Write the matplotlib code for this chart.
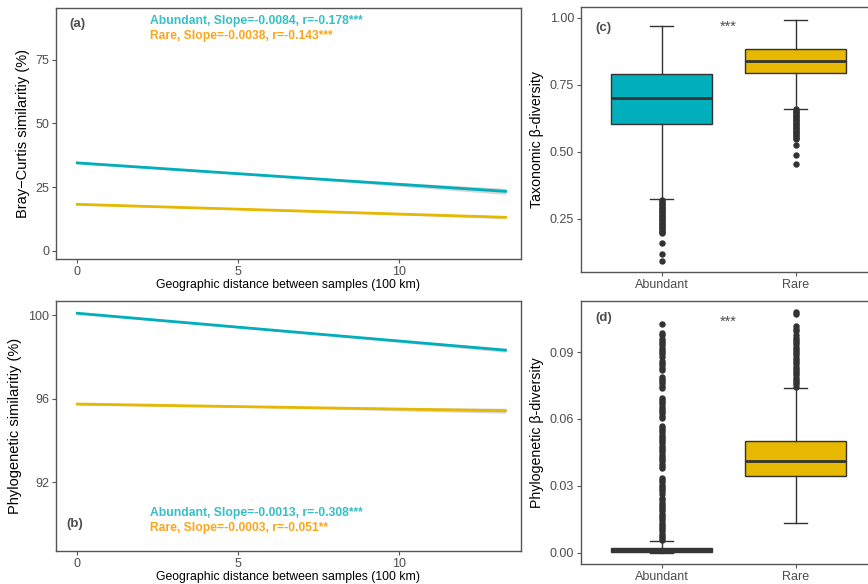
import numpy as np
import matplotlib.pyplot as plt

plt.rcParams['font.family'] = ['Liberation Sans', 'DejaVu Sans']

# regression lines: distance (100 km) -> similarity (%)
dist = [0, 6.6, 13.32]
bc_abundant = [34.5, 28.9, 23.3]
bc_abundant_ci = [0.4, 0.3, 1.2]
bc_rare = [18.2, 15.7, 13.1]
bc_rare_ci = [0.25, 0.15, 0.55]
phy_abundant = [100.10, 99.22, 98.33]
phy_abundant_ci = [0.05, 0.04, 0.1]
phy_rare = [95.75, 95.59, 95.43]
phy_rare_ci = [0.05, 0.04, 0.12]

groups = ["Abundant", "Rare"]

# box stats for taxonomic beta diversity
tax_q1 = [0.6045, 0.795]
tax_med = [0.700, 0.840]
tax_q3 = [0.789, 0.882]
tax_lo = [0.3235, 0.660]
tax_hi = [0.970, 0.9925]
tax_out_abundant = [0.320, 0.315, 0.310, 0.305, 0.300, 0.295, 0.290, 0.285, 0.280,
                    0.275, 0.270, 0.265, 0.260, 0.255, 0.250, 0.245, 0.240, 0.235,
                    0.230, 0.225, 0.220, 0.215, 0.210, 0.205, 0.200, 0.195,
                    0.158, 0.117, 0.093]
tax_out_rare = [0.658, 0.653, 0.648, 0.643, 0.638, 0.633, 0.628, 0.623, 0.618,
                0.613, 0.608, 0.603, 0.598, 0.593, 0.588, 0.583, 0.578, 0.573,
                0.568, 0.563, 0.558, 0.553, 0.548, 0.524, 0.489, 0.454]

# box stats for phylogenetic beta diversity
phy_q1 = [0.0002, 0.0343]
phy_med = [0.0010, 0.0412]
phy_q3 = [0.0023, 0.0502]
phy_lo = [0.0, 0.0134]
phy_hi = [0.0052, 0.0740]
phy_out_abundant = [0.0055, 0.0065, 0.0075, 0.0085, 0.0095, 0.0105, 0.0115, 0.0125,
                    0.0135, 0.0145, 0.0155, 0.0165, 0.0175, 0.0185, 0.0195, 0.0205,
                    0.0215, 0.0225, 0.0235, 0.0245,
                    0.0265, 0.0275, 0.0285, 0.0295, 0.0305, 0.0315, 0.0325, 0.0333,
                    0.0380, 0.0390, 0.0400, 0.0410, 0.0420, 0.0430, 0.0440, 0.0450,
                    0.0460, 0.0470, 0.0480, 0.0490, 0.0500, 0.0510, 0.0520, 0.0530,
                    0.0540, 0.0550, 0.0560, 0.0570,
                    0.0605, 0.0615, 0.0625, 0.0635, 0.0645, 0.0655, 0.0665, 0.0675,
                    0.0685, 0.0695,
                    0.0740, 0.0750, 0.0760, 0.0770, 0.0780, 0.0789,
                    0.0820, 0.0830, 0.0840, 0.0850, 0.0862,
                    0.0880, 0.0890, 0.0900, 0.0910, 0.0920, 0.0930, 0.0940, 0.0950,
                    0.0960, 0.0976, 0.0987, 0.1024]
phy_out_rare = [0.0745, 0.0755, 0.0765, 0.0775, 0.0785, 0.0795, 0.0805, 0.0815,
                0.0825, 0.0835, 0.0845, 0.0855, 0.0865, 0.0875, 0.0885, 0.0895,
                0.0905, 0.0915, 0.0925, 0.0935, 0.0945, 0.0955, 0.0965, 0.0975,
                0.0995, 0.1005, 0.1015, 0.1072, 0.1078]

teal = "#00AFBB"
gold = "#E7B800"
teal_txt = "#36BFC4"
gold_txt = "#FBA51A"
edge = "#333333"
grey_txt = "#4D4D4D"

fig = plt.figure(figsize=(8.68, 5.84), dpi=100)
ax_a = fig.add_axes([0.0645, 0.5565, 0.5357, 0.4298])
ax_b = fig.add_axes([0.0645, 0.0565, 0.5357, 0.4286])
ax_c = fig.add_axes([0.6694, 0.5337, 0.3399, 0.4548])
ax_d = fig.add_axes([0.6694, 0.0342, 0.3399, 0.4503])


def style(ax):
    for s in ax.spines.values():
        s.set_color("#555555")
        s.set_linewidth(1.0)
    ax.tick_params(direction="out", length=3, width=0.8, color="#555555",
                   labelsize=9, labelcolor=grey_txt, pad=2)


def reg_panel(ax, ab, ab_ci, ra, ra_ci):
    for y, ci, c in [(ab, ab_ci, teal), (ra, ra_ci, gold)]:
        y = np.array(y)
        ci = np.array(ci)
        ax.fill_between(dist, y - ci, y + ci, color="#999999", alpha=0.4, lw=0)
        ax.plot(dist, y, color=c, lw=2)
    ax.set_xlim(-0.66, 13.8)
    ax.set_xticks([0, 5, 10])
    ax.set_xlabel("Geographic distance between samples (100 km)", fontsize=8.8, labelpad=1)
    style(ax)


reg_panel(ax_a, bc_abundant, bc_abundant_ci, bc_rare, bc_rare_ci)
ax_a.set_ylim(-3.3, 95.4)
ax_a.set_yticks([0, 25, 50, 75])
ax_a.set_ylabel("Bray\u2212Curtis similaritiy (%)", fontsize=10.5, labelpad=4)
ax_a.text(0, 89.2, "(a)", fontsize=9.5, fontweight="bold", color=grey_txt, ha="center", va="center")
ax_a.text(2.26, 90.2, "Abundant, Slope=-0.0084, r=-0.178***", fontsize=8.7,
          fontweight="bold", color=teal_txt, va="center")
ax_a.text(2.26, 84.5, "Rare, Slope=-0.0038, r=-0.143***", fontsize=8.7,
          fontweight="bold", color=gold_txt, va="center")

reg_panel(ax_b, phy_abundant, phy_abundant_ci, phy_rare, phy_rare_ci)
ax_b.set_ylim(88.71, 100.70)
ax_b.set_yticks([92, 96, 100])
ax_b.set_ylabel("Phylogenetic similaritiy (%)", fontsize=10.5, labelpad=4)
ax_b.text(-0.08, 90.0, "(b)", fontsize=9.5, fontweight="bold", color=grey_txt, ha="center", va="center")
ax_b.text(2.26, 90.52, "Abundant, Slope=-0.0013, r=-0.308***", fontsize=8.7,
          fontweight="bold", color=teal_txt, va="center")
ax_b.text(2.26, 89.80, "Rare, Slope=-0.0003, r=-0.051**", fontsize=8.7,
          fontweight="bold", color=gold_txt, va="center")


def box_panel(ax, q1, med, q3, lo, hi, outs):
    stats = []
    for i in range(2):
        stats.append(dict(q1=q1[i], med=med[i], q3=q3[i], whislo=lo[i],
                          whishi=hi[i], fliers=outs[i], label=groups[i]))
    bp = ax.bxp(stats, positions=[1, 2], widths=0.75, patch_artist=True,
                showcaps=True,
                boxprops=dict(edgecolor=edge, linewidth=1.0),
                medianprops=dict(color=edge, linewidth=2.0),
                whiskerprops=dict(color=edge, linewidth=1.0),
                capprops=dict(color=edge, linewidth=1.0),
                capwidths=0.17,
                flierprops=dict(marker="o", markerfacecolor=edge,
                                markeredgecolor=edge, markersize=3.6))
    for patch, c in zip(bp["boxes"], [teal, gold]):
        patch.set_facecolor(c)
    ax.set_xlim(0.4, 2.6)
    style(ax)


box_panel(ax_c, tax_q1, tax_med, tax_q3, tax_lo, tax_hi, [tax_out_abundant, tax_out_rare])
ax_c.set_ylim(0.05, 1.041)
ax_c.set_yticks([0.25, 0.50, 0.75, 1.00])
ax_c.set_yticklabels(["0.25", "0.50", "0.75", "1.00"])
ax_c.set_ylabel("Taxonomic \u03b2-diversity", fontsize=10.2, labelpad=4)
ax_c.text(0.565, 0.960, "(c)", fontsize=9.5, fontweight="bold", color=grey_txt, ha="center", va="center")
ax_c.text(1.5, 0.966, "***", fontsize=10.5, color=grey_txt, ha="center", va="center")

box_panel(ax_d, phy_q1, phy_med, phy_q3, phy_lo, phy_hi, [phy_out_abundant, phy_out_rare])
ax_d.set_ylim(-0.0051, 0.1129)
ax_d.set_yticks([0.0, 0.03, 0.06, 0.09])
ax_d.set_yticklabels(["0.00", "0.03", "0.06", "0.09"])
ax_d.set_ylabel("Phylogenetic \u03b2-diversity", fontsize=10.2, labelpad=4)
ax_d.text(0.57, 0.1051, "(d)", fontsize=9.5, fontweight="bold", color=grey_txt, ha="center", va="center")
ax_d.text(1.5, 0.1036, "***", fontsize=10.5, color=grey_txt, ha="center", va="center")

fig.savefig("out.png", dpi=100)
